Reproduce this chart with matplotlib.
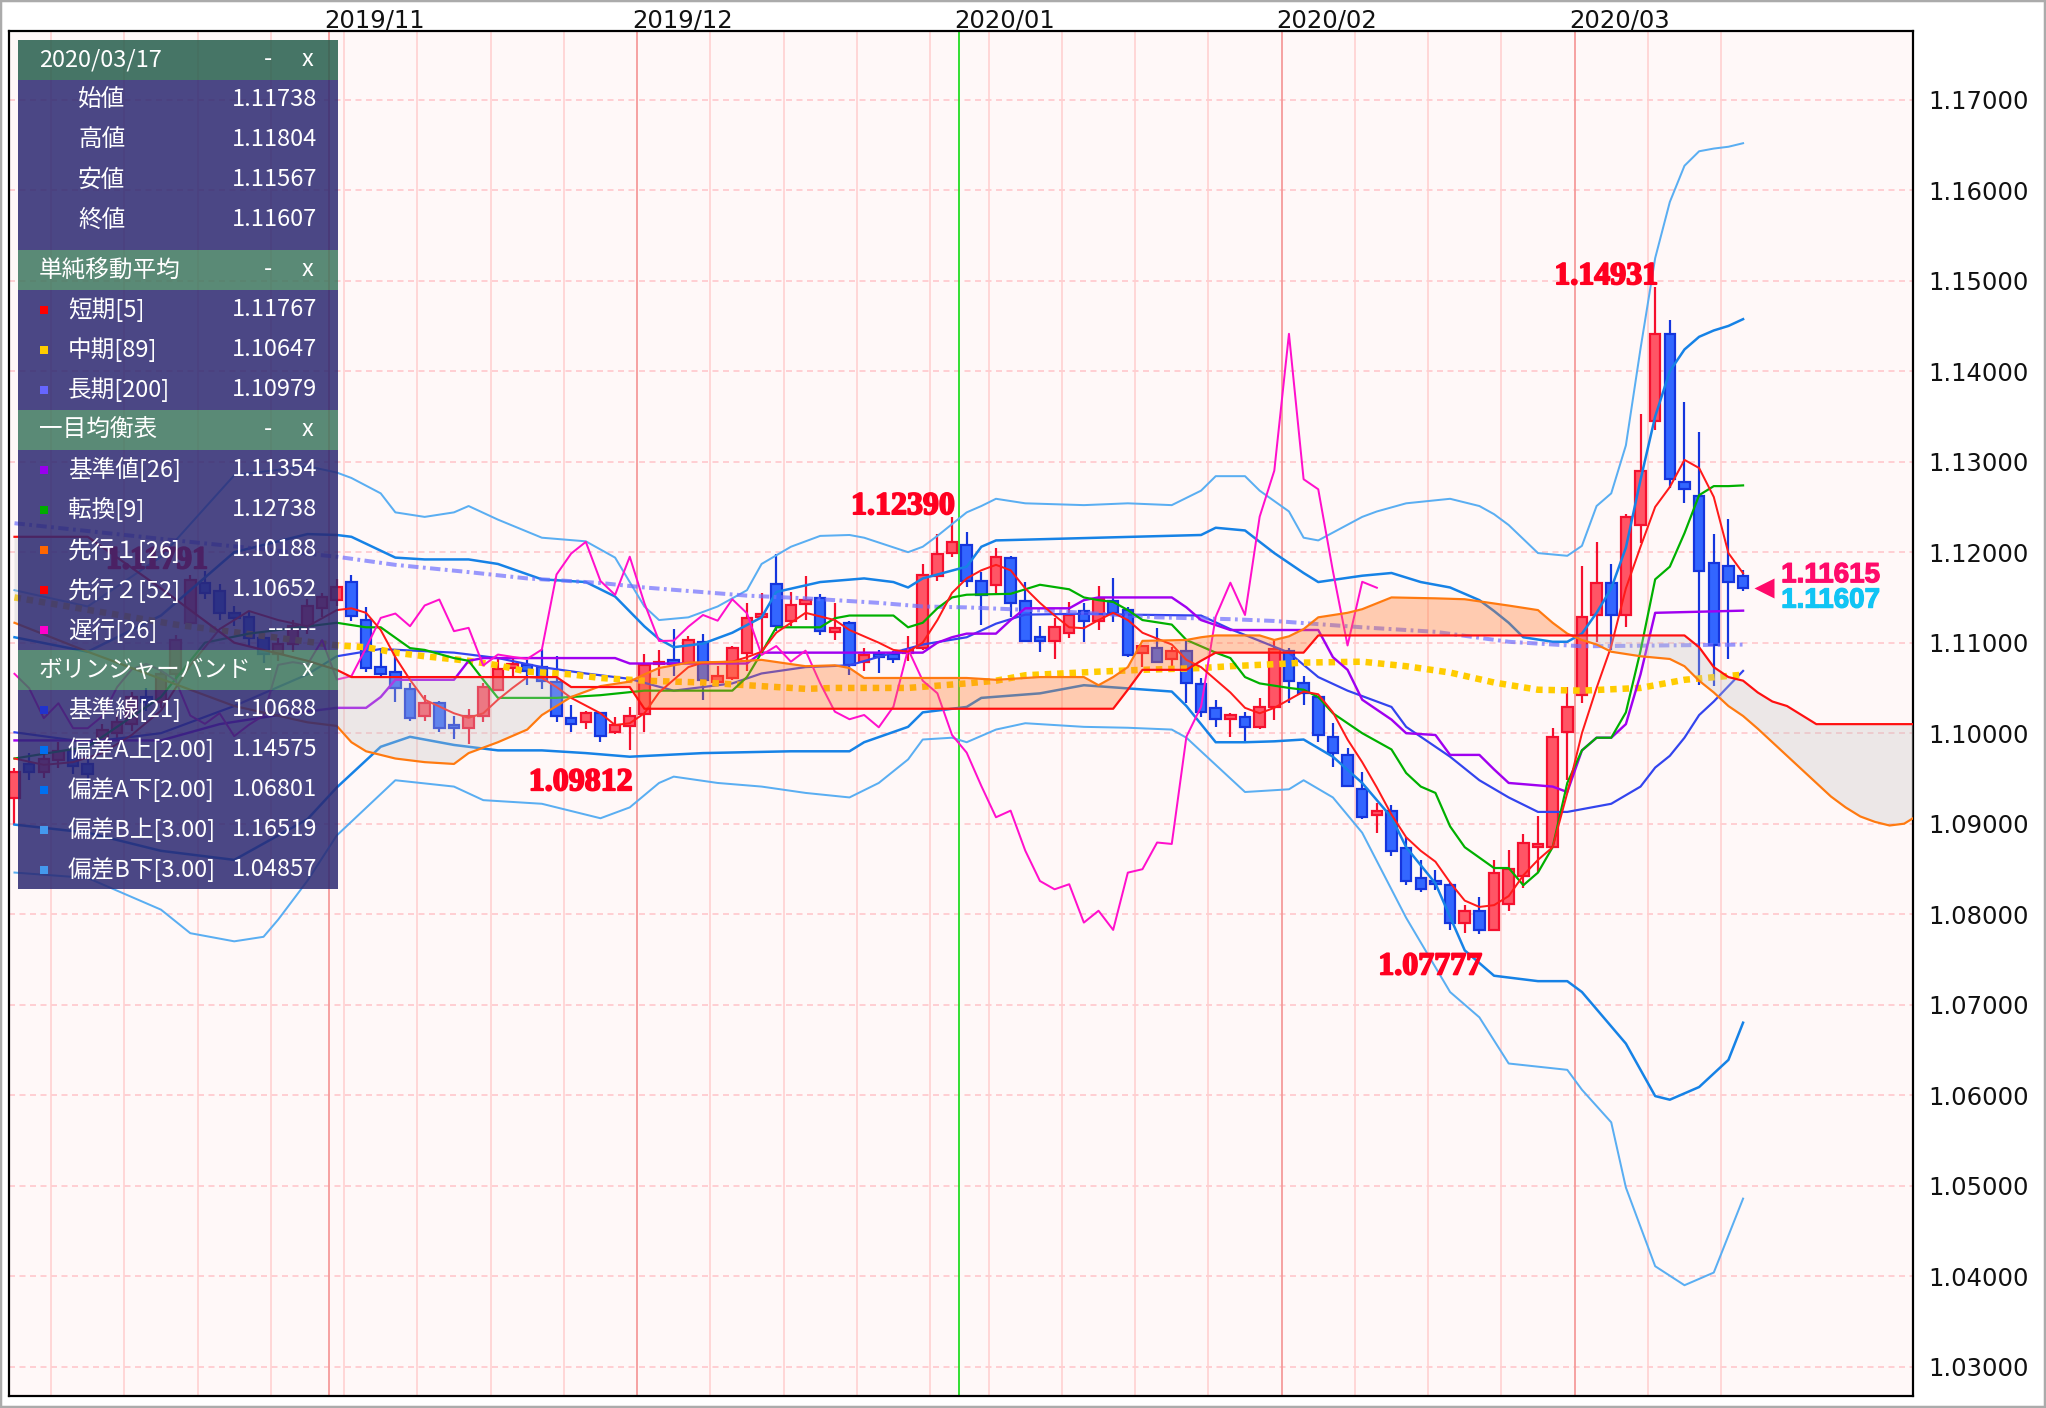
import numpy as np
import matplotlib
matplotlib.use('Agg')
import matplotlib.pyplot as plt
import matplotlib.patheffects as pe
from matplotlib.patches import Rectangle

# ---- daily OHLC, index 0 = 2019/10/02 ... index 118 = 2020/03/17 ----
opens = [
    1.09280, 1.0966, 1.0957, 1.0970, 1.0980, 1.0966, 1.0990, 1.1000, 1.1010, 1.1040,
    1.1035, 1.1065, 1.1122, 1.1166, 1.1157, 1.1133, 1.1128, 1.1105, 1.1088, 1.1098,
    1.1118, 1.1138, 1.1147, 1.11676, 1.11256, 1.10729, 1.10681, 1.10483, 1.10188, 1.10331,
    1.10085, 1.10055, 1.10195, 1.10479, 1.10718, 1.10748, 1.10729, 1.10571, 1.10169, 1.10129,
    1.10221, 1.10011, 1.10077, 1.10214, 1.10759, 1.10814, 1.10777, 1.11006, 1.10563, 1.10611,
    1.10888, 1.11285, 1.11650, 1.11238, 1.11422, 1.11495, 1.11116, 1.11212, 1.10785, 1.10880,
    1.10880, 1.10888, 1.10943, 1.11742, 1.11993, 1.12080, 1.11682, 1.11638, 1.11932, 1.11464,
    1.11060, 1.11022, 1.11111, 1.11354, 1.11243, 1.11464, 1.11361, 1.10889, 1.10938, 1.10817,
    1.10912, 1.10542, 1.10275, 1.10154, 1.10182, 1.10065, 1.10293, 1.10912, 1.10551, 1.10403,
    1.09961, 1.09759, 1.09382, 1.09096, 1.09144, 1.08728, 1.08396, 1.08370, 1.08324, 1.07907,
    1.08038, 1.07826, 1.08113, 1.08424, 1.08739, 1.08739, 1.10017, 1.10422, 1.11306, 1.11663,
    1.11306, 1.12301, 1.13455, 1.14413, 1.12772, 1.12621, 1.11884, 1.11847, 1.11738,
]
highs = [
    1.09616, 1.0978, 1.0985, 1.0990, 1.0986, 1.0975, 1.1010, 1.1020, 1.1045, 1.1050,
    1.1070, 1.1108, 1.1175, 1.11791, 1.1165, 1.1140, 1.1135, 1.1110, 1.1105, 1.1125,
    1.1148, 1.1155, 1.1170, 1.11750, 1.11392, 1.10932, 1.10902, 1.10556, 1.10424, 1.10361,
    1.10195, 1.10262, 1.10556, 1.10840, 1.10821, 1.10814, 1.10932, 1.10858, 1.10306, 1.10250,
    1.10239, 1.10177, 1.10287, 1.10877, 1.10917, 1.11146, 1.11079, 1.11101, 1.10740, 1.10961,
    1.11433, 1.11551, 1.11985, 1.11558, 1.11742, 1.11543, 1.11433, 1.11238, 1.10943, 1.10917,
    1.10906, 1.11079, 1.11864, 1.12206, 1.12390, 1.12227, 1.11785, 1.12043, 1.11958, 1.11674,
    1.11185, 1.11270, 1.11453, 1.11435, 1.11626, 1.11712, 1.11398, 1.10975, 1.11160, 1.10956,
    1.11030, 1.10607, 1.10367, 1.10227, 1.10238, 1.10386, 1.11030, 1.10938, 1.10632, 1.10411,
    1.10116, 1.09833, 1.09568, 1.09232, 1.09207, 1.08857, 1.08598, 1.08489, 1.08342, 1.08101,
    1.08193, 1.08598, 1.08709, 1.08888, 1.09085, 1.10054, 1.10514, 1.11847, 1.12116, 1.11868,
    1.12422, 1.13527, 1.14931, 1.14566, 1.13663, 1.13332, 1.12201, 1.12364, 1.11804,
]
lows = [
    1.08986, 1.0948, 1.0950, 1.0962, 1.0955, 1.0940, 1.0980, 1.0992, 1.1002, 1.1025,
    1.1028, 1.1058, 1.1115, 1.1148, 1.1125, 1.1118, 1.1095, 1.1078, 1.1080, 1.1090,
    1.1110, 1.1128, 1.1140, 1.11245, 1.10674, 1.10637, 1.10343, 1.10140, 1.10140, 1.10011,
    1.09937, 1.09882, 1.10122, 1.10479, 1.10619, 1.10527, 1.10490, 1.10122, 1.10011, 1.10048,
    1.09901, 1.09992, 1.09812, 1.10011, 1.10630, 1.10630, 1.10777, 1.10372, 1.10519, 1.10593,
    1.10685, 1.10888, 1.11127, 1.11182, 1.11256, 1.11090, 1.11035, 1.10648, 1.10685, 1.10667,
    1.10777, 1.10796, 1.10924, 1.11687, 1.11948, 1.11619, 1.11196, 1.11546, 1.11287, 1.11011,
    1.10901, 1.10817, 1.11049, 1.11011, 1.11140, 1.11232, 1.10845, 1.10735, 1.10772, 1.10717,
    1.10330, 1.10182, 1.10072, 1.09961, 1.09895, 1.10043, 1.10146, 1.10330, 1.10311, 1.09906,
    1.09630, 1.09403, 1.09049, 1.08894, 1.08639, 1.08324, 1.08249, 1.08268, 1.07826, 1.07789,
    1.07777, 1.07818, 1.08039, 1.08286, 1.08469, 1.08739, 1.09483, 1.10330, 1.11011, 1.10919,
    1.11177, 1.12098, 1.13345, 1.12706, 1.12540, 1.10533, 1.10522, 1.10817, 1.11567,
]
closes = [
    1.09574, 1.0957, 1.0972, 1.0980, 1.0964, 1.0955, 1.1003, 1.1012, 1.1040, 1.1035,
    1.1065, 1.1103, 1.1169, 1.1155, 1.1133, 1.1127, 1.1105, 1.1088, 1.1098, 1.1118,
    1.1140, 1.1150, 1.1162, 1.11293, 1.10722, 1.10656, 1.10497, 1.10166, 1.10331, 1.10055,
    1.10055, 1.10188, 1.10508, 1.10704, 1.10766, 1.10692, 1.10582, 1.10195, 1.10103, 1.10221,
    1.09967, 1.10092, 1.10195, 1.10755, 1.10785, 1.10759, 1.11028, 1.10593, 1.10630, 1.10943,
    1.11274, 1.11322, 1.11182, 1.11411, 1.11477, 1.11127, 1.11164, 1.10748, 1.10869, 1.10843,
    1.10821, 1.10924, 1.11753, 1.11985, 1.12114, 1.11682, 1.11528, 1.11950, 1.11436, 1.11019,
    1.11022, 1.11177, 1.11306, 1.11243, 1.11480, 1.11325, 1.10864, 1.10963, 1.10790, 1.10912,
    1.10551, 1.10238, 1.10154, 1.10201, 1.10065, 1.10293, 1.10928, 1.10580, 1.10441, 1.09980,
    1.09785, 1.09417, 1.09071, 1.09144, 1.08702, 1.08367, 1.08275, 1.08331, 1.07907, 1.08038,
    1.07826, 1.08459, 1.08497, 1.08792, 1.08776, 1.09961, 1.10293, 1.11287, 1.11663, 1.11306,
    1.12392, 1.12901, 1.14413, 1.12806, 1.12695, 1.11792, 1.10969, 1.11673, 1.11607,
]

# ---- indicator lines: (candle index, value) ----
sma5_x = [0, 2, 4, 6, 8, 10, 12, 14, 16, 18, 20, 22, 23, 24, 25, 26, 27, 28, 30, 31, 32, 33, 34, 35,
          36, 37, 38, 40, 41, 42, 43, 44, 45, 46, 47, 49, 50, 51, 52, 53, 54, 55, 56, 57, 59, 60,
          61, 62, 63, 64, 65, 66, 67, 68, 69, 70, 71, 72, 73, 74, 75, 76, 77, 79, 80, 81, 82, 83,
          84, 85, 86, 87, 88, 89, 90, 91, 92, 93, 94, 95, 96, 97, 98, 99, 100, 101, 102, 103, 104,
          105, 106, 107, 108, 109, 110, 111, 112, 113, 114, 115, 116, 117, 118]
sma5_y = [1.0972, 1.0965, 1.0968, 1.0978, 1.0998, 1.1025, 1.1075, 1.1115, 1.1135, 1.1125, 1.1118,
          1.1136, 1.1138, 1.1133, 1.1114, 1.1084, 1.1059, 1.1037, 1.1022, 1.1017, 1.1022, 1.1037,
          1.1050, 1.1062, 1.1061, 1.1051, 1.1039, 1.1022, 1.1009, 1.1011, 1.1022, 1.1045, 1.1059,
          1.1073, 1.1078, 1.1079, 1.1084, 1.1090, 1.1111, 1.1122, 1.1133, 1.1129, 1.1125, 1.1114,
          1.1100, 1.1092, 1.1090, 1.1100, 1.1125, 1.1155, 1.1171, 1.1180, 1.1186, 1.1180, 1.1160,
          1.1144, 1.1130, 1.1117, 1.1116, 1.1125, 1.1133, 1.1125, 1.1111, 1.1098, 1.1081, 1.1073,
          1.1059, 1.1045, 1.1028, 1.1022, 1.1028, 1.1037, 1.1046, 1.1043, 1.1023, 1.0993, 1.0968,
          1.0940, 1.0910, 1.0885, 1.0870, 1.0858, 1.0835, 1.0815, 1.0808, 1.0810, 1.0820, 1.0843,
          1.0860, 1.0874, 1.0934, 1.1000, 1.1050, 1.1096, 1.1160, 1.1206, 1.1250, 1.1272, 1.1302,
          1.1293, 1.1261, 1.1199, 1.11767]

sma89_x = [0, 11, 22, 24, 26, 28, 31, 33, 35, 38, 40, 43, 47, 52, 54, 56, 61, 65, 67, 69, 74, 77,
           81, 83, 87, 88, 92, 95, 98, 101, 104, 107, 111, 114, 118]
sma89_y = [1.1150, 1.1120, 1.1097, 1.1095, 1.1089, 1.1085, 1.1080, 1.1075, 1.1068, 1.1065, 1.1061,
           1.1058, 1.1056, 1.1051, 1.1049, 1.1050, 1.1050, 1.1055, 1.1058, 1.1064, 1.1068, 1.1070,
           1.1072, 1.1074, 1.1077, 1.1078, 1.1079, 1.1074, 1.1067, 1.1056, 1.1048, 1.1047, 1.1050,
           1.1059, 1.10647]

sma200_x = [0, 11, 22, 26, 31, 35, 40, 43, 50, 54, 59, 62, 65, 71, 78, 83, 86, 92, 97, 102, 107, 118]
sma200_y = [1.1232, 1.1213, 1.1195, 1.1186, 1.1178, 1.1171, 1.1166, 1.1161, 1.1152, 1.1149, 1.1144,
            1.1140, 1.1139, 1.1135, 1.1128, 1.1126, 1.1124, 1.1117, 1.1112, 1.1101, 1.1096, 1.10979]

kijun_x = [0, 10, 14, 18, 22, 24, 25, 26, 30, 31, 32, 41, 42, 50, 51, 62, 63, 64, 65, 67, 68, 69,
           72, 73, 74, 79, 80, 81, 83, 89, 90, 91, 92, 94, 95, 97, 98, 100, 101, 102, 105, 106, 107,
           108, 109, 110, 111, 112, 118]
kijun_y = [1.0992, 1.0992, 1.1010, 1.1020, 1.1028, 1.1028, 1.1040, 1.1059, 1.1059, 1.1080, 1.1083,
           1.1083, 1.1077, 1.1077, 1.1089, 1.1089, 1.1100, 1.1106, 1.1110, 1.1110, 1.1125, 1.1138,
           1.1138, 1.1147, 1.1150, 1.1150, 1.1139, 1.1125, 1.1114, 1.1114, 1.1084, 1.1070, 1.1037,
           1.1015, 1.1000, 1.0998, 1.0976, 1.0976, 1.0960, 1.0945, 1.0941, 1.0935, 1.0981, 1.0995,
           1.0995, 1.1010, 1.1065, 1.1133, 1.11354]

tenkan_x = [0, 5, 10, 13, 16, 22, 24, 25, 27, 28, 30, 31, 32, 33, 37, 40, 43, 49, 50, 51, 52, 55,
            56, 57, 60, 61, 62, 63, 64, 65, 68, 70, 72, 73, 74, 75, 76, 77, 79, 80, 82, 83, 84, 85,
            87, 88, 89, 90, 92, 94, 95, 96, 97, 98, 99, 101, 102, 103, 104, 105, 106, 107, 108,
            109, 110, 111, 112, 113, 114, 115, 116, 117, 118]
tenkan_y = [1.0972, 1.0985, 1.1040, 1.1100, 1.1110, 1.1122, 1.1117, 1.1117, 1.1094, 1.1092, 1.1083,
            1.1080, 1.1059, 1.1039, 1.1039, 1.1042, 1.1047, 1.1047, 1.1062, 1.1089, 1.1117, 1.1117,
            1.1127, 1.1130, 1.1130, 1.1117, 1.1122, 1.1138, 1.1150, 1.1153, 1.1154, 1.1164, 1.1159,
            1.1150, 1.1147, 1.1145, 1.1136, 1.1125, 1.1120, 1.1103, 1.1089, 1.1083, 1.1062, 1.1055,
            1.1050, 1.1048, 1.1040, 1.1022, 1.1000, 1.0982, 1.0956, 1.0941, 1.0934, 1.0897, 1.0874,
            1.0851, 1.0851, 1.0832, 1.0846, 1.0874, 1.0945, 1.0981, 1.0995, 1.0995, 1.1023, 1.1091,
            1.1170, 1.1184, 1.1221, 1.1263, 1.1273, 1.1273, 1.12738]

# leading spans (already shifted 26 ahead on the chart)
span_x = [0, 5, 10, 15, 20, 22, 23, 24, 26, 28, 30, 31, 33, 35, 36, 37, 38, 40, 42, 43, 44, 46, 49,
          51, 54, 56, 57, 58, 62, 65, 67, 70, 73, 74, 75, 76, 77, 80, 81, 82, 85, 86, 87, 88, 89,
          91, 92, 94, 97, 99, 102, 104, 105, 106, 107, 108, 109, 111, 113, 114, 115, 116, 117, 118,
          119, 120, 121, 122, 123, 124, 125, 126, 127, 128, 129, 130]
span_a = [1.1122, 1.1090, 1.1060, 1.1030, 1.1012, 1.1008, 1.0990, 1.0980, 1.0972, 1.0968, 1.0966,
          1.0978, 1.0990, 1.1004, 1.1020, 1.1030, 1.1040, 1.1052, 1.1057, 1.1065, 1.1072, 1.1078,
          1.1079, 1.1081, 1.1074, 1.1075, 1.1072, 1.1061, 1.1061, 1.1061, 1.1059, 1.1062, 1.1062,
          1.1053, 1.1062, 1.1073, 1.1102, 1.1103, 1.1106, 1.1108, 1.1108, 1.1103, 1.1107, 1.1115,
          1.1128, 1.1133, 1.1137, 1.1150, 1.1149, 1.1148, 1.1141, 1.1136, 1.1122, 1.1110, 1.1103,
          1.1098, 1.1090, 1.1085, 1.1082, 1.1074, 1.1058, 1.1045, 1.1030, 1.1019, 1.1005, 1.0990,
          1.0975, 1.0960, 1.0945, 1.0930, 1.0918, 1.0908, 1.0902, 1.0898, 1.0900, 1.0910]
span_b = [1.1217, 1.1217, 1.1160, 1.1100, 1.1080, 1.1070, 1.1062, 1.1062, 1.1062, 1.1062, 1.1062,
          1.1062, 1.1062, 1.1062, 1.1062, 1.1062, 1.1051, 1.1051, 1.1051, 1.1027, 1.1027, 1.1027,
          1.1027, 1.1027, 1.1027, 1.1027, 1.1027, 1.1027, 1.1027, 1.1027, 1.1027, 1.1027, 1.1027,
          1.1027, 1.1027, 1.1048, 1.1070, 1.1070, 1.1080, 1.1089, 1.1089, 1.1089, 1.1089, 1.1089,
          1.1108, 1.1108, 1.1108, 1.1108, 1.1108, 1.1108, 1.1108, 1.1108, 1.1108, 1.1108, 1.1108,
          1.1108, 1.1108, 1.1108, 1.1108, 1.1108, 1.1095, 1.1073, 1.1062, 1.1058, 1.1045, 1.1035,
          1.1030, 1.1020, 1.1010, 1.1010, 1.1010, 1.1010, 1.1010, 1.1010, 1.1010, 1.1010]

bb_mid_x = [0, 5, 10, 15, 20, 22, 25, 30, 33, 36, 39, 42, 45, 49, 51, 54, 57, 60, 62, 65, 67, 69,
            73, 76, 81, 83, 87, 89, 91, 94, 95, 98, 100, 102, 104, 106, 109, 111, 112, 113, 114,
            115, 116, 117, 118]
bb_mid_y = [1.1001, 1.0990, 1.1000, 1.1030, 1.1065, 1.1085, 1.1093, 1.1089, 1.1083, 1.1073, 1.1066,
            1.1060, 1.1047, 1.1055, 1.1066, 1.1073, 1.1075, 1.1089, 1.1098, 1.1106, 1.1121, 1.1131,
            1.1132, 1.1131, 1.1130, 1.1115, 1.1089, 1.1062, 1.1047, 1.1029, 1.1007, 1.0974, 1.0948,
            1.0929, 1.0913, 1.0913, 1.0922, 1.0941, 1.0962, 1.0975, 1.0995, 1.1020, 1.1035, 1.1052,
            1.10688]

bb_up2_x = [0, 5, 10, 15, 20, 22, 23, 26, 28, 31, 33, 36, 39, 41, 43, 44, 45, 47, 49, 51, 52, 55,
            58, 60, 61, 62, 65, 66, 67, 81, 82, 84, 86, 88, 89, 92, 94, 96, 98, 100, 101, 102, 103,
            105, 106, 107, 108, 109, 110, 111, 112, 113, 114, 115, 116, 117, 118]
bb_up2_y = [1.1106, 1.1090, 1.1130, 1.1200, 1.1220, 1.1219, 1.1217, 1.1194, 1.1192, 1.1192, 1.1187,
            1.1170, 1.1167, 1.1151, 1.1118, 1.1104, 1.1095, 1.1099, 1.1111, 1.1128, 1.1156, 1.1167,
            1.1171, 1.1167, 1.1161, 1.1171, 1.1184, 1.1206, 1.1213, 1.1219, 1.1227, 1.1224, 1.1199,
            1.1177, 1.1167, 1.1174, 1.1177, 1.1167, 1.1161, 1.1147, 1.1135, 1.1122, 1.1106, 1.1101,
            1.1101, 1.1110, 1.1133, 1.1160, 1.1205, 1.1280, 1.1350, 1.1400, 1.1424, 1.1438, 1.1445,
            1.1450, 1.14575]

bb_up3_x = [0, 5, 10, 15, 20, 22, 23, 25, 26, 28, 30, 31, 33, 36, 39, 41, 43, 44, 46, 48, 50, 51,
            53, 55, 57, 58, 61, 62, 63, 65, 66, 67, 69, 73, 76, 79, 81, 82, 84, 85, 87, 88, 89, 92,
            93, 95, 98, 100, 101, 102, 104, 106, 107, 108, 109, 110, 111, 112, 113, 114, 115, 116,
            117, 118]
bb_up3_y = [1.1158, 1.1140, 1.1195, 1.1285, 1.1295, 1.1288, 1.1282, 1.1265, 1.1244, 1.1239, 1.1244,
            1.1251, 1.1236, 1.1216, 1.1212, 1.1194, 1.1140, 1.1125, 1.1128, 1.1140, 1.1158, 1.1187,
            1.1206, 1.1218, 1.1219, 1.1216, 1.1200, 1.1206, 1.1218, 1.1244, 1.1251, 1.1259, 1.1254,
            1.1252, 1.1254, 1.1252, 1.1268, 1.1284, 1.1284, 1.1268, 1.1245, 1.1216, 1.1213, 1.1239,
            1.1245, 1.1254, 1.1259, 1.1251, 1.1242, 1.1230, 1.1199, 1.1196, 1.1207, 1.1251, 1.1265,
            1.1318, 1.1425, 1.1525, 1.1587, 1.1627, 1.1643, 1.1646, 1.1648, 1.16519]

bb_lo2_x = [0, 5, 10, 15, 20, 22, 25, 27, 30, 33, 36, 39, 42, 47, 53, 57, 58, 61, 62, 65, 66, 70,
            73, 79, 80, 82, 84, 86, 88, 90, 92, 94, 95, 97, 99, 101, 104, 106, 107, 110, 112, 113,
            115, 117, 118]
bb_lo2_y = [1.0899, 1.0890, 1.0870, 1.0860, 1.0905, 1.0940, 1.0985, 1.0996, 1.0987, 1.0981, 1.0981,
            1.0978, 1.0974, 1.0978, 1.0980, 1.0980, 1.0990, 1.1007, 1.1023, 1.1029, 1.1039, 1.1044,
            1.1053, 1.1046, 1.1030, 1.0990, 1.0990, 1.0991, 1.0993, 1.0974, 1.0945, 1.0907, 1.0874,
            1.0834, 1.0760, 1.0732, 1.0726, 1.0726, 1.0714, 1.0657, 1.0599, 1.0595, 1.0609, 1.0639,
            1.06801]

bb_lo3_x = [0, 5, 10, 12, 15, 17, 18, 20, 22, 26, 30, 32, 36, 40, 42, 44, 45, 48, 51, 54, 57, 59,
            61, 62, 64, 65, 67, 69, 73, 76, 79, 80, 84, 87, 88, 90, 92, 95, 98, 100, 102, 106, 107,
            109, 110, 112, 114, 116, 118]
bb_lo3_y = [1.0846, 1.0840, 1.0805, 1.0779, 1.0770, 1.0775, 1.0794, 1.0837, 1.0887, 1.0948, 1.0941,
            1.0926, 1.0922, 1.0906, 1.0918, 1.0945, 1.0952, 1.0945, 1.0941, 1.0934, 1.0929, 1.0945,
            1.0971, 1.0993, 1.0995, 1.0990, 1.1004, 1.1011, 1.1007, 1.1006, 1.1004, 1.0995, 1.0935,
            1.0938, 1.0948, 1.0929, 1.0890, 1.0796, 1.0714, 1.0686, 1.0635, 1.0628, 1.0606, 1.0570,
            1.0498, 1.0411, 1.0390, 1.0404, 1.04857]

chikou_shift = 25

# calendar: weekly (Monday) and month-start candle indices
week_idx = [3, 8, 13, 18, 23, 28, 33, 38, 48, 53, 58, 63, 67, 72, 77, 82, 92, 97, 102, 112, 117]
month_idx = [22, 43, 65, 87, 107]
month_lbl = ['2019/11', '2019/12', '2020/01', '2020/02', '2020/03']

# marked highs / lows
mark_idx = [13, 42, 64, 100, 112]
mark_val = [1.11791, 1.09812, 1.12390, 1.07777, 1.14931]
mark_top = [True, False, True, False, True]

yticks = [1.03, 1.04, 1.05, 1.06, 1.07, 1.08, 1.09, 1.10, 1.11, 1.12, 1.13, 1.14, 1.15, 1.16, 1.17]

# legend panel content
ohlc_names = ['始値', '高値', '安値', '終値']
ohlc_vals = ['1.11738', '1.11804', '1.11567', '1.11607']
sections = [
    ('単純移動平均', [('短期[5]', '1.11767', '#FF0000'), ('中期[89]', '1.10647', '#FFCC00'),
                ('長期[200]', '1.10979', '#6666FF')]),
    ('一目均衡表', [('基準値[26]', '1.11354', '#9900EE'), ('転換[9]', '1.12738', '#00AA00'),
               ('先行１[26]', '1.10188', '#FF6600'), ('先行２[52]', '1.10652', '#FF0000'),
               ('遅行[26]', '------', '#FF00CC')]),
    ('ボリンジャーバンド', [('基準線[21]', '1.10688', '#2233CC'), ('偏差A上[2.00]', '1.14575', '#0070F0'),
                   ('偏差A下[2.00]', '1.06801', '#0070F0'), ('偏差B上[3.00]', '1.16519', '#4499EE'),
                   ('偏差B下[3.00]', '1.04857', '#4499EE')]),
]

W, H = 2046, 1408
PT = 72 / 100  # points per pixel

fig = plt.figure(figsize=(W / 100, H / 100), dpi=100)
fig.patch.set_facecolor('white')
ax = fig.add_axes([9 / W, 1 - 1396 / H, (1913 - 9) / W, (1396 - 31) / H])
ax.set_facecolor('#FFF8F8')
ax.set_xlim(-0.375, 129.6)
ax.set_ylim(1.02676, 1.17759)

# grid
for v in yticks:
    ax.axhline(v, color='#FFC2C8', lw=1.5 * PT, ls=(0, (4, 3)), zorder=0.5)
for w in week_idx:
    ax.axvline(w - 0.5, color='#FFCFCF', lw=1.6 * PT, zorder=0.6)
for m in month_idx:
    col = '#22DD22' if m == 65 else '#F59A9A'
    ax.axvline(m - 0.5, color=col, lw=1.8 * PT, zorder=0.7)

# candles
o = np.array(opens); h = np.array(highs); l = np.array(lows); c = np.array(closes)
xi = np.arange(len(o))
up = c >= o
edge = np.where(up, '#F5102E', '#1535DD')
fill = np.where(up, '#FF5565', '#3366FF')
ax.vlines(xi, l, h, colors=edge, lw=2.2 * PT, zorder=2)
body = np.maximum(np.abs(c - o), 0.00008)
ax.bar(xi, body, bottom=np.minimum(o, c), width=0.72, color=fill, edgecolor=edge,
       linewidth=2.2 * PT, zorder=2.1)

# indicator lines
ax.plot(bb_up3_x, bb_up3_y, color='#5AAEF2', lw=2 * PT, zorder=3)
ax.plot(bb_lo3_x, bb_lo3_y, color='#5AAEF2', lw=2 * PT, zorder=3)
ax.plot(bb_up2_x, bb_up2_y, color='#1682E6', lw=2.5 * PT, zorder=3)
ax.plot(bb_lo2_x, bb_lo2_y, color='#1682E6', lw=2.5 * PT, zorder=3)
ax.plot(bb_mid_x, bb_mid_y, color='#3344EE', lw=2.2 * PT, zorder=3)
ax.plot(sma200_x, sma200_y, color='#6E6EFF', lw=4 * PT, alpha=0.7,
        ls=(0, (2.6, 1.1, 0.7, 1.1)), zorder=3)
ax.plot(sma89_x, sma89_y, color='#FFCC00', lw=6.5 * PT, ls=(0, (1.0, 0.9)), zorder=3)
ax.plot(kijun_x, kijun_y, color='#A000F0', lw=2.4 * PT, zorder=3.2)
ax.plot(tenkan_x, tenkan_y, color='#00B000', lw=2.2 * PT, zorder=3.2)
ax.plot(xi[chikou_shift:] - chikou_shift, c[chikou_shift:], color='#FF10CC', lw=2 * PT, zorder=3.2)
ax.plot(sma5_x, sma5_y, color='#FF1A1A', lw=2 * PT, zorder=3.3)

# cloud
sa = np.array(span_a); sb = np.array(span_b)
ax.fill_between(span_x, sa, sb, where=sa >= sb, interpolate=True, color='#FF782B', alpha=0.35,
                lw=0, zorder=4)
ax.fill_between(span_x, sa, sb, where=sa < sb, interpolate=True, color='#C4C4C4', alpha=0.32,
                lw=0, zorder=4)
ax.plot(span_x, span_a, color='#FF7A10', lw=2.2 * PT, zorder=4.5)
ax.plot(span_x, span_b, color='#FF1010', lw=2.2 * PT, zorder=4.5)

# high / low marks
bold_red = [pe.withStroke(linewidth=1.3, foreground='#FF0020')]
for mi, mv, top in zip(mark_idx, mark_val, mark_top):
    ax.annotate(f'{mv:.5f}', (mi, mv), xytext=(2, 2 if top else -13), textcoords='offset points',
                ha='right', va='baseline' if top else 'top', color='#FF0020',
                fontsize=23, fontweight='bold', family='Liberation Serif', zorder=6,
                path_effects=bold_red)

# current price marker
ax.plot([119.4], [c[-1]], marker='<', ms=14, color='#FF0A6A', mec='none', zorder=6, clip_on=False)
ax.text(120.6, 1.11745, '1.11615', color='#FF0A6A', fontsize=20, fontweight='bold',
        family='Liberation Sans', va='center', ha='left', zorder=6,
        path_effects=[pe.withStroke(linewidth=0.9, foreground='#FF0A6A')])
ax.text(120.6, 1.11465, '1.11607', color='#10C4F4', fontsize=20, fontweight='bold',
        family='Liberation Sans', va='center', ha='left', zorder=6,
        path_effects=[pe.withStroke(linewidth=0.9, foreground='#10C4F4')])

# axes styling
ax.set_xticks([])
ax.set_yticks(yticks)
ax.set_yticklabels([f'{v:.5f}' for v in yticks])
ax.yaxis.tick_right()
ax.tick_params(axis='y', length=0, pad=11, labelsize=17.5, labelcolor='#111111')
for s in ax.spines.values():
    s.set_color('black')
    s.set_linewidth(2.2 * PT)
for m, lbl in zip(month_idx, month_lbl):
    ax.text(m - 0.5 - 0.35, 1.008, lbl, transform=ax.get_xaxis_transform(), ha='left', va='center',
            fontsize=17.5, color='#111111')

# ---- overlay: legend panel and outer border (pixel coordinates) ----
ov = fig.add_axes([0, 0, 1, 1], zorder=10)
ov.set_xlim(0, W)
ov.set_ylim(H, 0)
ov.axis('off')
ov.patch.set_alpha(0)
ov.add_patch(Rectangle((1, 1), W - 2, H - 2, fill=False, edgecolor='#ABABAB', lw=2.5 * PT))

jp = ['Noto Sans CJK JP', 'DejaVu Sans']
px0, px1 = 18, 338
body_col = '#2B2871'
head_col = '#3D775F'
fs = 17


def header(y0, text, color):
    ov.add_patch(Rectangle((px0, y0), px1 - px0, 40, facecolor=color, alpha=0.85, lw=0))
    ov.text(39, y0 + 20, text, color='white', fontsize=fs, family=jp, va='center', ha='left')
    ov.text(268, y0 + 20, '-', color='white', fontsize=fs, family=jp, va='center', ha='center')
    ov.text(308, y0 + 20, 'x', color='white', fontsize=fs, family=jp, va='center', ha='center')


# date block
header(40, '2020/03/17', '#255E4D')
ov.add_patch(Rectangle((px0, 80), px1 - px0, 170, facecolor=body_col, alpha=0.85, lw=0))
for k, (nm, val) in enumerate(zip(ohlc_names, ohlc_vals)):
    yy = 100 + 40 * k
    ov.text(78, yy, nm, color='white', fontsize=fs, family=jp, va='center', ha='left')
    ov.text(317, yy, val, color='white', fontsize=fs, family=jp, va='center', ha='right')

y = 250
for title, rows in sections:
    header(y, title, head_col)
    y += 40
    hgt = 40 * len(rows) + (0 if title != 'ボリンジャーバンド' else -1)
    ov.add_patch(Rectangle((px0, y), px1 - px0, hgt, facecolor=body_col, alpha=0.85, lw=0))
    for k, (nm, val, col) in enumerate(rows):
        yy = y + 20 + 40 * k
        ov.add_patch(Rectangle((40, yy - 4), 8, 8, facecolor=col, lw=0))
        ov.text(68, yy, nm, color='white', fontsize=fs, family=jp, va='center', ha='left')
        ov.text(317, yy, val, color='white', fontsize=fs, family=jp, va='center', ha='right')
    y += hgt

fig.savefig('out.png', dpi=100, facecolor='white')
